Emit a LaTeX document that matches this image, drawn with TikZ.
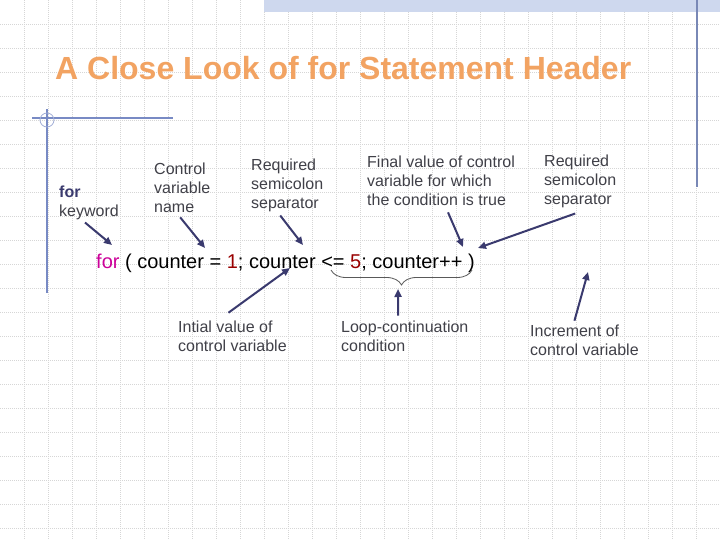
\documentclass[tikz,border=0pt]{standalone}
\usepackage{fontspec}
\setmainfont{Liberation Sans}
\usetikzlibrary{arrows.meta,decorations.pathreplacing}
\definecolor{titleorange}{RGB}{242,163,98}
\definecolor{arrnavy}{RGB}{58,58,110}
\definecolor{labelgray}{RGB}{64,64,72}
\definecolor{kwmagenta}{RGB}{204,0,153}
\definecolor{numred}{RGB}{153,0,0}
\definecolor{rulerblue}{RGB}{120,138,196}
\definecolor{bandblue}{RGB}{206,216,238}
\definecolor{gridgray}{RGB}{214,214,214}

\begin{document}
\begin{tikzpicture}[x=1pt, y=-1pt,
    note/.style={anchor=base west, align=left, inner sep=0pt, text=labelgray, font=\fontsize{16}{19}\selectfont},
    arr/.style={-{Triangle[length=8pt,width=7pt]}, line width=2pt, arrnavy},
    gridline/.style={gridgray, line width=0.6pt, dash pattern=on 1pt off 1pt}
]
\useasboundingbox (0,0) rectangle (720,540);
\fill[white] (0,0) rectangle (720,540);
% grid
\foreach \gx in {24,48,...,696} \draw[gridline] (\gx,0) -- (\gx,540);
\foreach \gy in {24,48,...,528} \draw[gridline] (0,\gy) -- (720,\gy);
% slide decoration
\fill[bandblue] (264,0) rectangle (720,12.5);
\draw[rulerblue!80!gray, line width=1.5pt] (697,0) -- (697,187);
\draw[rulerblue, line width=1.2pt] (32,118) -- (173,118);
\draw[rulerblue, line width=1.2pt] (47,109) -- (47,293);
\draw[rulerblue!70, line width=0.8pt] (47,120) circle (7pt);

\node[anchor=base west, inner sep=0pt, text=titleorange, font=\fontsize{32}{38}\selectfont\bfseries] (title) at (55,80) {A Close Look of for Statement Header};

\node[anchor=base west, inner sep=0pt, font=\fontsize{20}{24}\selectfont] (code) at (96,268)
    {\textcolor{kwmagenta}{for} ( counter = \textcolor{numred}{1}; counter <= \textcolor{numred}{5}; counter++ )};

% labels (placed by the baseline of their last line)
\node[note] (kw) at (59,217) {\textbf{\textcolor{arrnavy}{for}}\\keyword};
\node[note] (cv) at (154,212) {Control\\variable\\name};
\node[note] (rq1) at (251,209) {Required\\semicolon\\separator};
\node[note] (fv) at (367,206) {Final value of control\\variable for which\\the condition is true};
\node[note] (rq2) at (544,205) {Required\\semicolon\\separator};
\node[note] (iv) at (178,351) {Intial value of\\control variable};
\node[note] (lc) at (341,351) {Loop-continuation\\condition};
\node[note] (inc) at (530,355) {Increment of\\control variable};

% arrow ends on the header
\coordinate (forhead) at (112,245);
\coordinate (cvhead) at (205,248);
\coordinate (rq1head) at (303,245);
\coordinate (fvhead) at (463,247);
\coordinate (rq2head) at (478,248);
\coordinate (ivhead) at (290,268);
\coordinate (lchead) at (398,289);
\coordinate (inchead) at (588,272);
\coordinate (brl) at (331,270);
\coordinate (brr) at (472,270);

\draw[decorate, decoration={brace, mirror, amplitude=15pt}, black!65, line width=0.8pt] (brl) -- (brr);

\draw[arr] ([xshift=-4pt,yshift=-2pt]kw.south) -- (forhead);
\draw[arr] ([xshift=-2pt,yshift=-5pt]cv.south) -- (cvhead);
\draw[arr] ([xshift=-7pt,yshift=-3pt]rq1.south) -- (rq1head);
\draw[arr] ([xshift=7pt,yshift=-6pt]fv.south) -- (fvhead);
\draw[arr] ([xshift=-5pt,yshift=-5pt]rq2.south) -- (rq2head);
\draw[arr] ([xshift=-4pt,yshift=7.5pt]iv.north) -- (ivhead);
\draw[arr] ([xshift=-6.6pt,yshift=4.5pt]lc.north) -- (lchead);
\draw[arr] ([xshift=-10pt,yshift=3.5pt]inc.north) -- (inchead);
\end{tikzpicture}
\end{document}
